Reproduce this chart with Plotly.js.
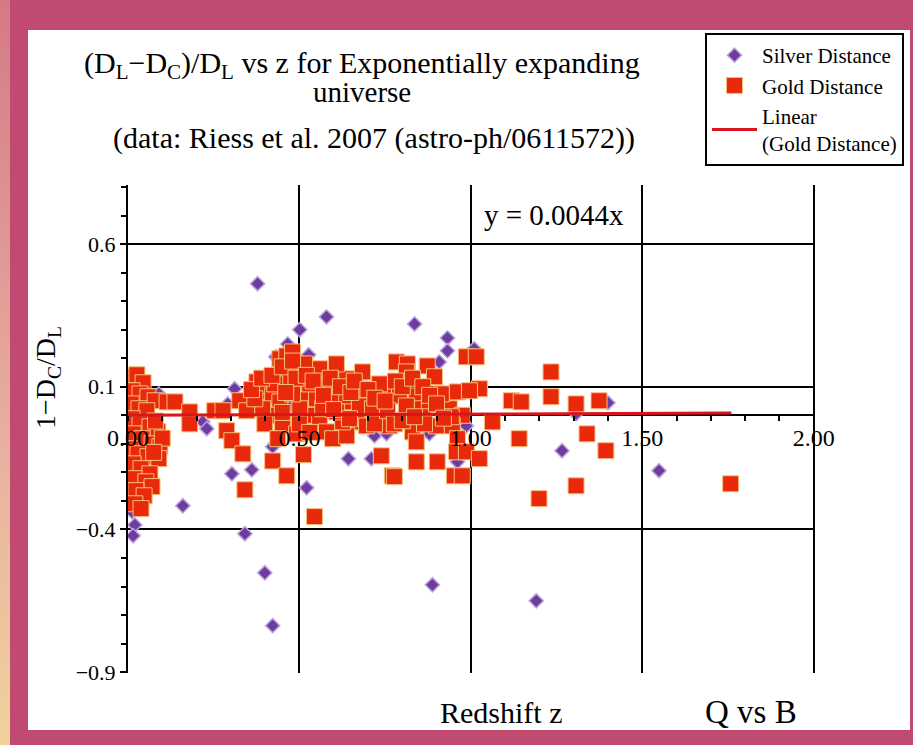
<!DOCTYPE html>
<html>
<head>
<meta charset="utf-8">
<script src="https://cdn.plot.ly/plotly-3.0.1.min.js"></script>
<style>
  html, body { margin: 0; padding: 0; width: 913px; height: 745px; overflow: hidden;
    background: #c04a70; }
  #strip { position: absolute; left: 0; top: 0; width: 10px; height: 745px;
    background: linear-gradient(#d47a86, #e8b0a0 60%, #f0d29c); }
  #chart { position: absolute; left: 28px; top: 30px; width: 882px; height: 700px; background: #fff; }
</style>
</head>
<body>
<div id="strip"></div>
<div id="chart"></div>
<script>
// ---- data ----
var silverZ = [0.378, 0.579, 0.501, 0.466, 0.431, 0.527, 0.550, 0.090, 0.311, 0.361, 0.291, 0.218, 0.230,
  0.422, 0.303, 0.361, 0.160, 0.521, 0.643, 0.640, 0.710, 0.719, 0.754, 0.734, 0.341, 0.006, 0.012,
  0.020, 0.015, 0.009, 0.399, 0.422, 0.888, 1.191, 1.549, 1.266, 1.400, 1.307, 0.987, 1.010, 0.836,
  0.932, 0.932, 0.908, 0.961, 0.879, 0.801, 0.470, 0.600, 0.680, 0.850];
var silverR = [0.461, 0.345, 0.300, 0.250, 0.205, 0.212, 0.145, 0.075, 0.093, 0.082, 0.040, -0.023, -0.047,
  -0.110, -0.205, -0.191, -0.317, -0.254, -0.152, -0.075, -0.152, -0.072, -0.065, 0.068, -0.415, -0.299, -0.338,
  -0.384, -0.422, -0.264, -0.552, -0.737, -0.594, -0.650, -0.194, -0.124, 0.044, 0.005, -0.037, 0.233, 0.320,
  0.271, 0.226, 0.187, -0.163, -0.065, 0.065, 0.030, 0.010, 0.060, 0.000];

var goldZ = [0.009, 0.026, 0.044, 0.012, 0.035, 0.058, 0.079, 0.009, 0.032, 0.055, 0.012, 0.035, 0.064,
  0.087, 0.015, 0.041, 0.070, 0.093, 0.009, 0.029, 0.058, 0.090, 0.015, 0.038, 0.064, 0.017, 0.052,
  0.070, 0.023, 0.047, 0.020, 0.038, 0.080, 0.100, 0.075,
  0.114, 0.137, 0.180, 0.180, 0.253, 0.277, 0.288, 0.303, 0.335, 0.341, 0.326, 0.346, 0.376, 0.384,
  0.405, 0.422, 0.422, 0.463, 0.443, 0.463, 0.480, 0.472, 0.463, 0.443, 0.413, 0.393, 0.501, 0.509,
  0.521, 0.512, 0.544, 0.539, 0.550, 0.559, 0.579, 0.597, 0.597, 0.579, 0.638, 0.617, 0.655, 0.684,
  0.696, 0.675, 0.739, 0.771, 0.705, 0.742, 0.763, 0.783, 0.815, 0.812, 0.873, 0.894, 0.987, 1.016,
  0.792, 0.841, 0.961, 1.025, 0.638, 0.675, 0.713, 0.812, 0.859, 0.937, 0.975, 0.696, 0.763, 0.830,
  0.841, 0.900, 0.946, 0.961, 0.958, 0.987, 1.025, 0.841, 0.902, 0.777, 0.952, 0.638, 0.626, 0.943,
  0.975, 0.501, 0.530, 0.559, 0.480, 0.451, 0.492, 0.515, 0.568, 0.608, 0.646, 0.608, 0.661, 0.734,
  0.719, 0.757, 0.777, 0.800, 0.879, 0.914, 0.865, 0.836, 0.428, 0.370, 0.399, 0.437, 0.996,
  0.360, 0.390, 0.420, 0.450, 0.480, 0.490, 0.460, 0.520, 0.540, 0.570, 0.590, 0.620, 0.650, 0.660,
  0.700, 0.720, 0.750, 0.780, 0.800, 0.830, 0.860, 0.880, 0.900, 0.920, 0.600, 0.500, 0.530, 0.450,
  1.063, 1.118, 1.147, 1.141, 1.234, 1.234, 1.307, 1.339, 1.374, 1.394, 1.307, 1.199, 1.758];
var goldR = [0.135, 0.142, 0.114, 0.086, 0.075, 0.065, 0.051, 0.040, 0.023, 0.016, -0.012, -0.030, -0.040,
  -0.058, -0.065, -0.082, -0.100, -0.110, -0.117, -0.135, -0.145, -0.152, -0.170, -0.187, -0.205, -0.222, -0.233,
  -0.250, -0.264, -0.282, -0.310, -0.327, -0.020, -0.080, -0.130,
  0.047, 0.047, 0.012, -0.030, 0.016, 0.016, -0.054, -0.089, -0.135, -0.261, 0.051, 0.016, 0.117, 0.082,
  0.103, 0.068, -0.160, -0.212, 0.198, 0.208, 0.222, 0.163, 0.128, 0.047, 0.000, 0.023, 0.152, 0.103,
  0.058, -0.138, -0.355, 0.000, 0.058, -0.023, -0.058, -0.082, 0.082, 0.103, 0.128, 0.058, 0.047, 0.152,
  0.000, -0.023, -0.142, -0.212, 0.058, 0.033, 0.093, 0.187, 0.180, 0.152, 0.173, 0.135, 0.205, 0.205,
  0.068, 0.068, 0.082, 0.093, 0.068, 0.033, 0.023, 0.033, 0.023, 0.023, 0.000, -0.037, -0.037, -0.058,
  -0.093, -0.037, -0.037, -0.082, -0.128, -0.128, -0.152, -0.163, -0.163, -0.215, -0.212, -0.072, -0.023, -0.005,
  -0.212, 0.023, 0.110, 0.163, 0.075, -0.030, -0.065, 0.180, 0.023, 0.012, -0.012, 0.180, 0.093, 0.110,
  -0.030, 0.016, -0.030, -0.019, 0.051, 0.075, -0.030, -0.005, 0.110, 0.058, -0.030, -0.082, 0.086,
  0.090, 0.130, 0.140, 0.170, 0.190, 0.130, 0.080, 0.140, 0.120, 0.070, 0.130, 0.100, 0.080, 0.120,
  0.090, 0.060, 0.050, 0.120, 0.100, 0.130, 0.100, 0.070, 0.040, -0.010, 0.020, -0.030, -0.060, 0.010,
  -0.023, 0.051, 0.047, -0.082, 0.152, 0.065, 0.040, -0.065, 0.051, -0.124, -0.247, -0.292, -0.240];

var fitSlope = 0.0044;
var fitZ = [0, 1.76];
var fitR = fitZ.map(function (z) { return fitSlope * z; });

var xTickFormat = '.2f';
var yTickFormat = '.1f';

// ---- layout helpers (page pixel -> paper coords) ----
var W = 882, H = 700, ML = 100, MT = 155, PW = 687, PH = 488;
function px(x) { return (x - 28 - ML) / PW; }
function py(y) { return (MT + PH - (y - 30)) / PH; }

var yMin = -0.903, yMax = 0.807;
var serif = 'Liberation Serif, Times New Roman, serif';

function note(text, x, y, size, angle) {
  return { xref: 'paper', yref: 'paper', x: px(x), y: py(y), xanchor: 'center', yanchor: 'middle',
    showarrow: false, text: text, textangle: angle || 0,
    font: { family: serif, size: size, color: '#000' } };
}

var traces = [
  { type: 'scatter', mode: 'markers', name: 'Silver Distance', x: silverZ, y: silverR,
    legendgroup: 's',
    marker: { symbol: 'diamond', size: 11, color: '#6c3c9e', line: { color: '#c0a4e0', width: 1.5 } } },
  { type: 'scatter', mode: 'markers', name: 'Gold Distance', x: goldZ, y: goldR,
    legendgroup: 'g',
    marker: { symbol: 'square', size: 16, color: '#e8290c', line: { color: '#f7c07a', width: 1 } } },
  { type: 'scatter', mode: 'lines', name: 'Linear<br>(Gold Distance)', x: fitZ, y: fitR,
    legendgroup: 'l',
    line: { color: '#d8141c', width: 3 } }
];

var layout = {
  width: W, height: H,
  margin: { l: ML, r: W - ML - PW, t: MT, b: H - MT - PH, pad: 0, autoexpand: false },
  paper_bgcolor: '#ffffff', plot_bgcolor: '#ffffff',
  font: { family: serif, color: '#000', size: 18 },
  showlegend: true,
  legend: {
    x: px(904), y: py(33), xanchor: 'right', yanchor: 'top',
    bgcolor: '#ffffff', bordercolor: '#000', borderwidth: 2,
    font: { family: serif, size: 21, color: '#000' },
    traceorder: 'grouped', tracegroupgap: 0, itemwidth: 45
  },
  xaxis: {
    range: [0, 2.004], anchor: 'free', position: (0 - yMin) / (yMax - yMin),
    showline: false, zeroline: false,
    showgrid: true, gridcolor: '#000', gridwidth: 2,
    tickmode: 'linear', tick0: 0, dtick: 0.5, tickformat: xTickFormat,
    ticks: 'outside', ticklen: 5, tickwidth: 2, tickcolor: '#000',
    minor: { dtick: 0.1, tick0: 0, ticks: 'outside', ticklen: 5, tickwidth: 2, tickcolor: '#000', showgrid: false },
    tickfont: { family: serif, size: 24, color: '#000' },
    ticklabelstandoff: -4,
    layer: 'above traces', fixedrange: true
  },
  yaxis: {
    range: [yMin, yMax],
    showline: true, linecolor: '#000', linewidth: 2,
    zeroline: true, zerolinecolor: '#000', zerolinewidth: 2,
    showgrid: true, gridcolor: '#000', gridwidth: 2,
    tickmode: 'linear', tick0: -0.9, dtick: 0.5, tickformat: yTickFormat,
    ticks: 'outside', ticklen: 6, tickwidth: 2, tickcolor: '#000',
    minor: { dtick: 0.1, tick0: -0.9, ticks: 'outside', ticklen: 5, tickwidth: 2, tickcolor: '#000', showgrid: false },
    tickfont: { family: serif, size: 22, color: '#000' },
    fixedrange: true
  },
  annotations: [
    note('(D<sub>L</sub>−D<sub>C</sub>)/D<sub>L</sub> vs z for Exponentially expanding', 362, 65, 30),
    note('universe', 362, 92, 29),
    note('(data: Riess et al. 2007 (astro-ph/0611572))', 374, 138, 30),
    note('y = 0.0044x', 554, 215, 29),
    note('Redshift z', 501, 712, 30),
    note('Q vs B', 751, 712, 33),
    note('1−D<sub>C</sub>/D<sub>L</sub>', 47, 378, 28, -90)
  ]
};

Plotly.newPlot('chart', traces, layout, { staticPlot: true, displayModeBar: false });
</script>
</body>
</html>
